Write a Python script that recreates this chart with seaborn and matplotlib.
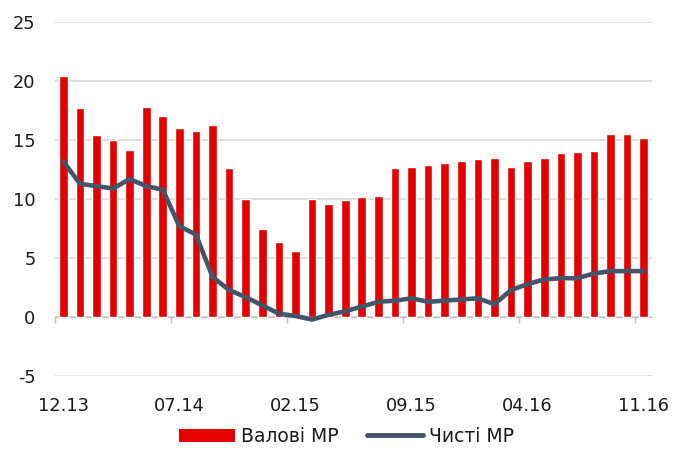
import numpy as np
import pandas as pd
import matplotlib
matplotlib.use("Agg")
import matplotlib.pyplot as plt
import seaborn as sns
from matplotlib.patches import Patch
from matplotlib.lines import Line2D

months = ["12.13", "01.14", "02.14", "03.14", "04.14", "05.14", "06.14", "07.14", "08.14",
          "09.14", "10.14", "11.14", "12.14", "01.15", "02.15", "03.15", "04.15", "05.15",
          "06.15", "07.15", "08.15", "09.15", "10.15", "11.15", "12.15", "01.16", "02.16",
          "03.16", "04.16", "05.16", "06.16", "07.16", "08.16", "09.16", "10.16", "11.16"]
gross = [20.4, 17.7, 15.4, 15.0, 14.2, 17.8, 17.0, 16.0, 15.8, 16.3, 12.6, 10.0,
         7.5, 6.4, 5.6, 10.0, 9.6, 9.9, 10.2, 10.3, 12.6, 12.7, 12.9, 13.1,
         13.2, 13.4, 13.5, 12.7, 13.2, 13.5, 13.9, 14.0, 14.1, 15.5, 15.5, 15.2]
net = [13.2, 11.3, 11.1, 10.9, 11.7, 11.1, 10.8, 7.7, 7.0, 3.4, 2.3, 1.7,
       1.0, 0.3, 0.1, -0.2, 0.2, 0.5, 0.9, 1.3, 1.4, 1.6, 1.3, 1.4,
       1.5, 1.6, 1.1, 2.3, 2.8, 3.2, 3.3, 3.3, 3.7, 3.9, 3.9, 3.9]
label_gross = "Валові МР"
label_net = "Чисті МР"
yticks = [-5, 0, 5, 10, 15, 20, 25]

df = pd.DataFrame({"month": months, "gross": gross, "net": net})
df["pos"] = np.arange(len(df))

sns.set_theme(style="white")
plt.rcParams["font.family"] = ["DejaVu Sans"]

RED = "#E50000"
NAVY = "#44546A"
TXT = "#1A1A1A"
FS = 12.8

fig = plt.figure(figsize=(6.74, 4.5), dpi=100)
ax = fig.add_axes([0.0816, 0.164, 0.9674 - 0.0816, 0.951 - 0.164])

sns.barplot(data=df, x="pos", y="gross", color=RED, width=0.52, saturation=1,
            ax=ax, zorder=2)
sns.lineplot(data=df, x="pos", y="net", color=NAVY, linewidth=3.3, ax=ax, zorder=3)

ax.set_ylim(-5, 25)
ax.set_xlim(-0.5, len(df) - 0.5)
ax.set_yticks(yticks)
ax.set_yticklabels([str(v) for v in yticks], fontsize=FS, color=TXT)
ax.tick_params(axis="y", length=0, pad=14)
ax.yaxis.grid(True, color="#D9D9D9", linewidth=1.2)
ax.set_axisbelow(True)
for s in ["left", "right", "top"]:
    ax.spines[s].set_visible(False)

# category axis line at zero with tick marks between categories
ax.spines["bottom"].set_position(("data", 0))
ax.spines["bottom"].set_color("#BFBFBF")
ax.spines["bottom"].set_linewidth(1.0)
ax.spines["bottom"].set_zorder(1)
ax.set_xticks(np.arange(-0.5, len(df) - 1, 7))
ax.set_xticklabels([])
ax.tick_params(axis="x", which="major", direction="out", length=4, width=1,
               color="#BFBFBF", bottom=True)
ax.set_xlabel("")
ax.set_ylabel("")

# labels at bottom
sec = ax.secondary_xaxis("bottom")
sec.set_xticks(df["pos"][::7])
sec.set_xticklabels(df["month"][::7], fontsize=FS, color=TXT)
sec.tick_params(length=0, pad=15)
sec.spines["bottom"].set_visible(False)

handles = [Patch(facecolor=RED, edgecolor="none"),
           Line2D([0], [0], color=NAVY, linewidth=3.5)]
fig.legend(handles, [label_gross, label_net], loc="center", bbox_to_anchor=(0.514, 0.03),
           ncol=2, frameon=False, fontsize=13.5, handlelength=3.0, handleheight=0.75,
           handletextpad=0.3, columnspacing=1.5, labelcolor=TXT)

fig.savefig("out.png", dpi=100)
